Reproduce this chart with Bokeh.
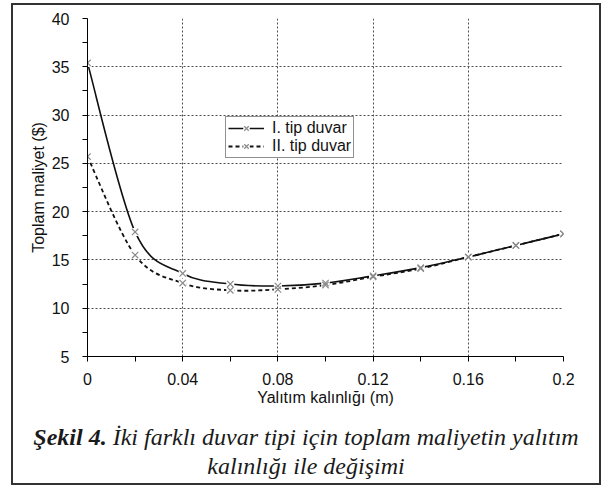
import numpy as np
from bokeh.plotting import figure
from bokeh.layouts import column
from bokeh.models import Range1d, FixedTicker, Legend, LegendItem, ColumnDataSource, Div
from bokeh.embed import file_html
from bokeh.resources import INLINE

# ---------------- data ----------------
thickness_m = [0.00, 0.02, 0.04, 0.06, 0.08, 0.10, 0.12, 0.14, 0.16, 0.18, 0.20]
cost_wall_1 = [35.4, 17.9, 13.6, 12.5, 12.3, 12.6, 13.35, 14.2, 15.3, 16.5, 17.7]
cost_wall_2 = [25.7, 15.5, 12.6, 11.85, 11.95, 12.4, 13.25, 14.1, 15.3, 16.5, 17.7]
series_names = ["I. tip duvar", "II. tip duvar"]

x_ticks = [0.0, 0.04, 0.08, 0.12, 0.16, 0.2]
x_tick_labels = ["0", "0.04", "0.08", "0.12", "0.16", "0.2"]
x_minor_ticks = [0.02, 0.06, 0.10, 0.14, 0.18]
y_ticks = [5, 10, 15, 20, 25, 30, 35, 40]
y_minor_ticks = [7.5, 12.5, 17.5, 22.5, 27.5, 32.5, 37.5]

x_label = "Yalıtım kalınlığı (m)"
y_label = "Toplam maliyet ($)"
caption_bold = "Şekil 4."
caption_line1 = "İki farklı duvar tipi için toplam maliyetin yalıtım"
caption_line2 = "kalınlığı ile değişimi"

SANS = "Liberation Sans"
SERIF = "Liberation Serif"
W = 586


def smooth_source(xs, ys):
    """Bezier segments (Catmull-Rom style, like a spreadsheet smoothed line)."""
    x = np.asarray(xs, float)
    y = np.asarray(ys, float)
    n = len(x)
    xp = np.concatenate([[x[0]], x, [x[-1]]])
    yp = np.concatenate([[y[0]], y, [y[-1]]])
    return ColumnDataSource(dict(
        x0=x[:-1], y0=y[:-1], x1=x[1:], y1=y[1:],
        cx0=x[:-1] + (xp[2:n + 1] - xp[0:n - 1]) / 6.0,
        cy0=y[:-1] + (yp[2:n + 1] - yp[0:n - 1]) / 6.0,
        cx1=x[1:] - (xp[3:n + 2] - xp[1:n]) / 6.0,
        cy1=y[1:] - (yp[3:n + 2] - yp[1:n]) / 6.0,
    ))


p = figure(
    width=W, height=405,
    x_range=Range1d(0, 0.2), y_range=Range1d(5, 40),
    output_backend="svg", toolbar_location=None,
    min_border_left=74, min_border_right=36, min_border_top=13, min_border_bottom=54,
)
p.outline_line_color = None
p.background_fill_color = "white"
p.border_fill_color = "white"

# grid
for g in (p.xgrid, p.ygrid):
    g.grid_line_color = "#4d4d4d"
    g.grid_line_dash = "2 2"
    g.grid_line_width = 1
p.xgrid.ticker = FixedTicker(ticks=x_ticks)
p.ygrid.ticker = FixedTicker(ticks=y_ticks)

# axes
p.xaxis.ticker = FixedTicker(ticks=x_ticks, minor_ticks=x_minor_ticks)
p.yaxis.ticker = FixedTicker(ticks=y_ticks, minor_ticks=y_minor_ticks)
p.xaxis.major_label_overrides = dict(zip(x_ticks, x_tick_labels))
for ax in (p.xaxis[0], p.yaxis[0]):
    ax.axis_line_color = "black"
    ax.axis_line_width = 1
    ax.major_tick_in = 0
    ax.major_tick_out = 5
    ax.minor_tick_in = 0
    ax.minor_tick_out = 5
    ax.major_tick_line_color = "black"
    ax.minor_tick_line_color = "black"
    ax.major_label_text_font = SANS
    ax.major_label_text_font_size = "16px"
    ax.major_label_text_color = "#111111"
    ax.axis_label_text_font = SANS
    ax.axis_label_text_font_size = "16px"
    ax.axis_label_text_font_style = "normal"
    ax.axis_label_text_color = "#111111"
p.xaxis.axis_label = x_label
p.yaxis.axis_label = y_label
p.xaxis.major_label_standoff = 11
p.yaxis.major_label_standoff = 13
p.xaxis.axis_label_standoff = 1
p.yaxis.axis_label_standoff = 2

# series
src1 = smooth_source(thickness_m, cost_wall_1)
src2 = smooth_source(thickness_m, cost_wall_2)
bez1 = p.bezier(x0="x0", y0="y0", x1="x1", y1="y1", cx0="cx0", cy0="cy0", cx1="cx1", cy1="cy1",
                source=src1, line_color="#111111", line_width=1.6)
bez2 = p.bezier(x0="x0", y0="y0", x1="x1", y1="y1", cx0="cx0", cy0="cy0", cx1="cx1", cy1="cy1",
                source=src2, line_color="#111111", line_width=1.8, line_dash="4 3")

gap1 = p.scatter(thickness_m, cost_wall_1, marker="square", size=8, fill_color="white", line_color=None)
gap2 = p.scatter(thickness_m, cost_wall_2, marker="square", size=8, fill_color="white", line_color=None)
mk1 = p.scatter(thickness_m, cost_wall_1, marker="x", size=9, line_color="#8a8a8a", line_width=1.2)
mk2 = p.scatter(thickness_m, cost_wall_2, marker="x", size=9, line_color="#8a8a8a", line_width=1.2)

legend = Legend(
    items=[LegendItem(label=series_names[0], renderers=[bez1, gap1, mk1]),
           LegendItem(label=series_names[1], renderers=[bez2, gap2, mk2])],
    location=(138, 198),
    margin=0, padding=2, spacing=0,
    glyph_width=36, glyph_height=16, label_height=16, label_standoff=8,
    label_text_font=SANS, label_text_font_size="16px", label_text_color="#111111",
    border_line_color="#222222", border_line_width=1,
    background_fill_color="white", background_fill_alpha=1.0,
)
p.add_layout(legend)

# ---------------- caption ----------------
caption_html = (
    f'<div style="width:{W}px; text-align:center; font-family:\'{SERIF}\', serif; '
    'font-size:24px; font-style:italic; line-height:29px; color:#1a1a1a; padding-top:13px;">'
    f'<b>{caption_bold}</b> {caption_line1}<br>{caption_line2}</div>'
)
cap = Div(text=caption_html, width=W, height=73, margin=0)

layout = column(p, cap, spacing=0, margin=(3, 0, 0, 11),
                styles={"border": "2px solid #333333", "background": "white"})

open("out.html", "w").write(file_html(layout, INLINE))
